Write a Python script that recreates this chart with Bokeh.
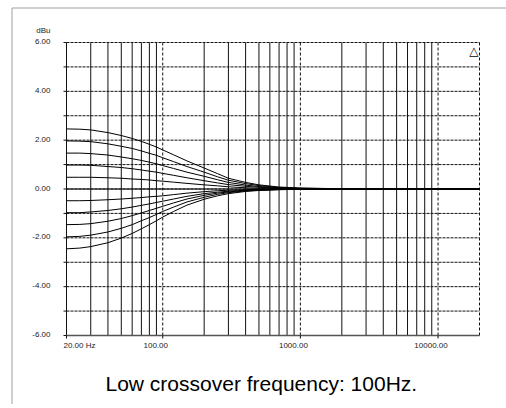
from bokeh.plotting import figure
from bokeh.models import Range1d
from bokeh.core.properties import value
from bokeh.embed import file_html
from bokeh.resources import INLINE

# ---------------- data ----------------
FREQ = [20, 25, 30, 40, 50, 60, 70, 80, 90, 100, 120, 150, 200, 250, 300,
        400, 500, 700, 1000, 2000, 5000, 10000, 20000]

BOOST_25 = [2.46, 2.45, 2.42, 2.31, 2.19, 2.07, 1.95, 1.83, 1.72, 1.60, 1.40, 1.15, 0.86, 0.63, 0.44,
            0.27, 0.17, 0.08, 0.04, 0.01, 0.0, 0.0, 0.0]
BOOST_20 = [1.97, 1.96, 1.94, 1.85, 1.75, 1.66, 1.56, 1.46, 1.38, 1.28, 1.12, 0.92, 0.69, 0.50, 0.36,
            0.22, 0.14, 0.06, 0.03, 0.01, 0.0, 0.0, 0.0]
BOOST_15 = [1.47, 1.47, 1.45, 1.39, 1.31, 1.24, 1.17, 1.10, 1.03, 0.96, 0.84, 0.69, 0.52, 0.38, 0.27,
            0.16, 0.10, 0.05, 0.02, 0.01, 0.0, 0.0, 0.0]
BOOST_10 = [0.98, 0.98, 0.97, 0.92, 0.88, 0.83, 0.78, 0.73, 0.69, 0.64, 0.56, 0.46, 0.34, 0.25, 0.18,
            0.11, 0.07, 0.03, 0.02, 0.0, 0.0, 0.0, 0.0]
BOOST_05 = [0.48, 0.48, 0.48, 0.46, 0.44, 0.41, 0.39, 0.37, 0.34, 0.32, 0.28, 0.23, 0.17, 0.13, 0.09,
            0.05, 0.03, 0.02, 0.01, 0.0, 0.0, 0.0, 0.0]
FLAT_00 = [0.0, 0.0, 0.0, 0.0, 0.0, 0.0, 0.0, 0.0, 0.0, 0.0, 0.0, 0.0, 0.0, 0.0, 0.0,
           0.0, 0.0, 0.0, 0.0, 0.0, 0.01, 0.02, 0.01]
CUT_05 = [-0.48, -0.48, -0.47, -0.44, -0.41, -0.38, -0.35, -0.32, -0.30, -0.28, -0.23, -0.17, -0.11, -0.07, -0.05,
          -0.03, -0.02, -0.01, 0.0, 0.0, 0.0, 0.0, 0.0]
CUT_10 = [-0.97, -0.97, -0.94, -0.88, -0.81, -0.74, -0.67, -0.61, -0.55, -0.50, -0.41, -0.30, -0.19, -0.13, -0.09,
          -0.05, -0.03, -0.01, 0.0, 0.0, 0.0, 0.0, 0.0]
CUT_15 = [-1.46, -1.45, -1.42, -1.32, -1.21, -1.09, -0.98, -0.88, -0.79, -0.71, -0.57, -0.41, -0.26, -0.17, -0.12,
          -0.06, -0.04, -0.02, -0.01, 0.0, 0.0, 0.0, 0.0]
CUT_20 = [-1.96, -1.94, -1.89, -1.76, -1.61, -1.46, -1.30, -1.17, -1.04, -0.92, -0.74, -0.53, -0.34, -0.22, -0.15,
          -0.08, -0.05, -0.02, -0.01, 0.0, 0.0, 0.0, 0.0]
CUT_25 = [-2.45, -2.42, -2.36, -2.20, -2.01, -1.82, -1.63, -1.46, -1.30, -1.15, -0.92, -0.66, -0.42, -0.28, -0.19,
          -0.10, -0.06, -0.03, -0.01, 0.0, 0.0, 0.0, 0.0]

CURVES = [BOOST_25, BOOST_20, BOOST_15, BOOST_10, BOOST_05, FLAT_00,
          CUT_05, CUT_10, CUT_15, CUT_20, CUT_25]

X_MIN, X_MAX = 20, 20000
Y_MIN, Y_MAX = -6, 6

GRID_X_SOLID = [20, 30, 40, 50, 60, 70, 80, 90,
                200, 300, 400, 500, 600, 700, 800, 900,
                2000, 3000, 4000, 5000, 6000, 7000, 8000, 9000]
GRID_X_DASHED = [100, 1000, 10000, 20000]
GRID_Y_DASHED = [-5, -4, -3, -2, -1, 0, 1, 2, 3, 4, 5, 6]
GRID_Y_SOLID = [-6]

Y_TICKS = [6, 4, 2, 0, -2, -4, -6]
Y_TICK_LABELS = ["6.00", "4.00", "2.00", "0.00", "-2.00", "-4.00", "-6.00"]
X_TICKS = [20, 100, 1000, 10000]
X_TICK_LABELS = ["20.00 Hz", "100.00", "1000.00", "10000.00"]
Y_UNIT = "dBu"
CAPTION = "Low crossover frequency: 100Hz."

# ---------------- layout (pixels) ----------------
W, H = 506, 404
PAD_L, PAD_T = 66, 42
PAD_R = W - 479
PAD_B = H - 335
PX_PER_DEC = (W - PAD_L - PAD_R) / 3.0
PX_PER_DB = (H - PAD_T - PAD_B) / 12.0

x_start = X_MIN / 10 ** (PAD_L / PX_PER_DEC)
x_end = X_MAX * 10 ** (PAD_R / PX_PER_DEC)
y_start = Y_MIN - PAD_B / PX_PER_DB
y_end = Y_MAX + PAD_T / PX_PER_DB

p = figure(width=W, height=H, x_axis_type="log",
           x_axis_location=None, y_axis_location=None,
           x_range=Range1d(x_start, x_end), y_range=Range1d(y_start, y_end),
           output_backend="svg", toolbar_location=None, min_border=0)
p.outline_line_color = None
p.xgrid.visible = False
p.ygrid.visible = False
p.background_fill_color = "white"
p.border_fill_color = "white"

GRID_COLOR = "#111111"

# outer light-grey border (top and left edges)
bx = x_start * 10 ** (11.5 / PX_PER_DEC)
by = y_end - 7.5 / PX_PER_DB
p.segment(x0=[bx, bx], x1=[bx, x_end], y0=[y_start, by], y1=[by, by],
          line_color="#a0a0a0", line_width=1)

# vertical grid lines
p.segment(x0=GRID_X_SOLID, x1=GRID_X_SOLID, y0=[Y_MIN] * len(GRID_X_SOLID), y1=[Y_MAX] * len(GRID_X_SOLID),
          line_color=GRID_COLOR, line_width=1)
p.segment(x0=GRID_X_DASHED, x1=GRID_X_DASHED, y0=[Y_MIN] * len(GRID_X_DASHED), y1=[Y_MAX] * len(GRID_X_DASHED),
          line_color=GRID_COLOR, line_width=1, line_dash="3 2")
# horizontal grid lines
p.segment(x0=[X_MIN] * len(GRID_Y_DASHED), x1=[X_MAX] * len(GRID_Y_DASHED), y0=GRID_Y_DASHED, y1=GRID_Y_DASHED,
          line_color=GRID_COLOR, line_width=1, line_dash="3 1")
p.segment(x0=[X_MIN] * len(GRID_Y_SOLID), x1=[X_MAX] * len(GRID_Y_SOLID), y0=GRID_Y_SOLID, y1=GRID_Y_SOLID,
          line_color="#555555", line_width=1.5)

# small outer tick marks
tick_x0 = X_MIN / 10 ** (3 / PX_PER_DEC)
p.segment(x0=[tick_x0] * len(GRID_Y_DASHED + GRID_Y_SOLID), x1=[X_MIN] * len(GRID_Y_DASHED + GRID_Y_SOLID),
          y0=GRID_Y_DASHED + GRID_Y_SOLID, y1=GRID_Y_DASHED + GRID_Y_SOLID,
          line_color=GRID_COLOR, line_width=1)
tick_y0 = Y_MIN - 3 / PX_PER_DB
p.segment(x0=X_TICKS, x1=X_TICKS, y0=[tick_y0] * len(X_TICKS), y1=[Y_MIN] * len(X_TICKS),
          line_color=GRID_COLOR, line_width=1)

# curves
p.multi_line(xs=[FREQ] * len(CURVES), ys=CURVES, line_color="black", line_width=1)

FONT = value("Liberation Sans")

# y tick labels
p.text(x=[X_MIN] * len(Y_TICKS), y=Y_TICKS, text=Y_TICK_LABELS,
       text_align="right", text_baseline="middle", x_offset=-16, y_offset=-1,
       text_font=FONT, text_font_size="8px", text_color="#222222")
p.text(x=[X_MIN], y=[Y_MAX], text=[Y_UNIT],
       text_align="right", text_baseline="middle", x_offset=-16, y_offset=-12,
       text_font=FONT, text_font_size="8px", text_color="#222222")

# x tick labels
p.text(x=X_TICKS[:1], y=[Y_MIN], text=X_TICK_LABELS[:1],
       text_align="left", text_baseline="middle", x_offset=-3, y_offset=10,
       text_font=FONT, text_font_size="8px", text_color="#222222")
p.text(x=X_TICKS[1:], y=[Y_MIN] * len(X_TICKS[1:]), text=X_TICK_LABELS[1:],
       text_align="center", text_baseline="middle", x_offset=-7, y_offset=10,
       text_font=FONT, text_font_size="8px", text_color="#222222")

# small logo mark in the top right corner
p.text(x=[X_MAX], y=[Y_MAX], text=["\u25b3"], text_align="right", text_baseline="top",
       x_offset=-1, y_offset=1, text_font=value("DejaVu Sans"), text_font_size="12px",
       text_font_style="bold", text_color="black")

# caption
p.text(x=[X_MIN], y=[Y_MIN], text=[CAPTION], text_align="left", text_baseline="alphabetic",
       x_offset=39, y_offset=48, text_font=FONT, text_font_size="21px", text_color="black")

open("out.html", "w").write(file_html(p, INLINE))
